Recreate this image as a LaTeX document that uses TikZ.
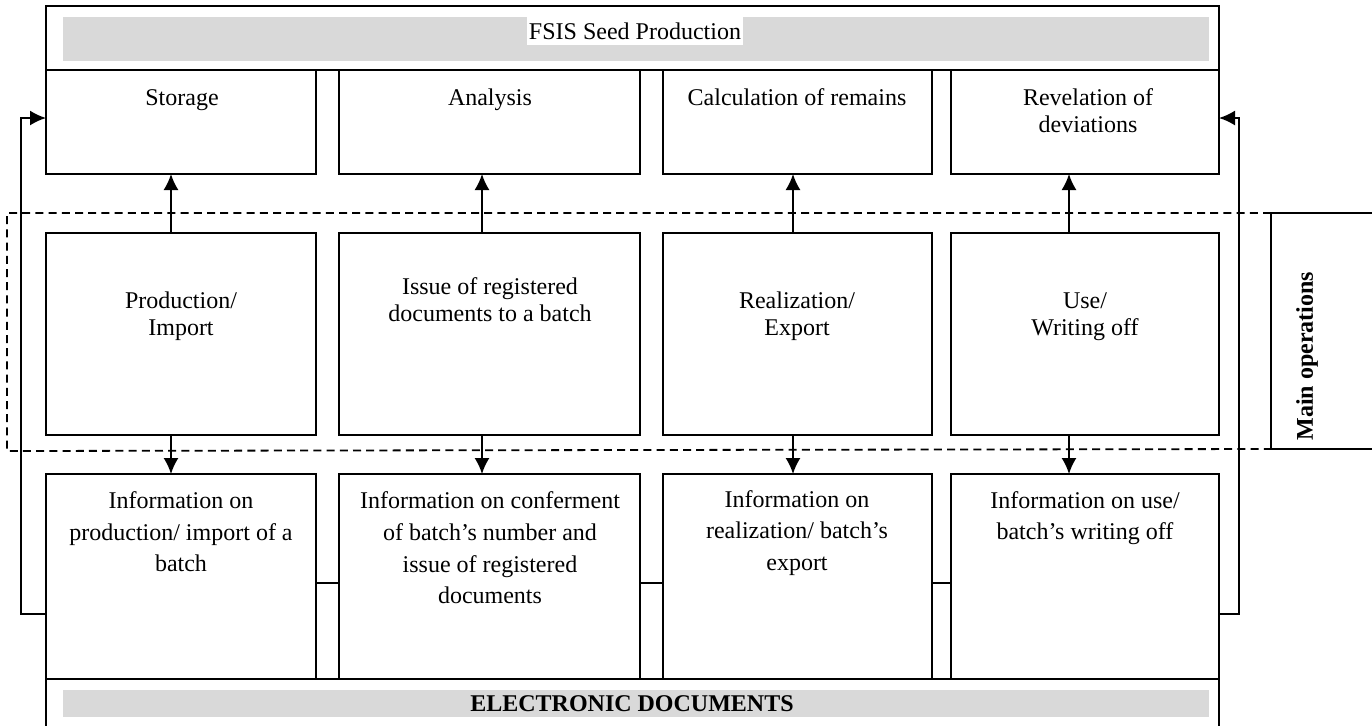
\documentclass[tikz,border=0pt]{standalone}
\usepackage{fontspec}
\setmainfont{Liberation Serif}
\usetikzlibrary{arrows.meta}
\begin{document}
\begin{tikzpicture}[x=0.5pt,y=-0.5pt,
  box/.style={draw, line width=0.9pt, inner sep=0pt, outer sep=0pt, anchor=north west},
  band/.style={fill=black!15, inner sep=0pt, outer sep=0pt, anchor=north west},
  lbl/.style={align=center, inner sep=0pt, font=\fontsize{12}{13.4}\selectfont},
  lblb/.style={align=center, inner sep=0pt, font=\fontsize{12}{15.8}\selectfont},
  arr/.style={line width=0.9pt, -{Latex[length=8pt,width=7.5pt]}},
  ln/.style={line width=0.9pt},
  dsh/.style={line width=0.9pt, dash pattern=on 4pt off 2.6pt}]
\useasboundingbox (0,0) rectangle (1372,725);
\clip (0,0) rectangle (1372,725);
% top band
\node[box, minimum width=586.5pt, minimum height=32pt] (top) at (46,6) {};
\node[band, minimum width=573pt, minimum height=22pt] (topg) at (63,17) {};
\node[fill=white, inner xsep=1pt, inner ysep=0pt, minimum height=14pt, anchor=north, font=\fontsize{12}{14}\selectfont] (title) at (635,17) {FSIS Seed Production};
% bottom band
\node[box, minimum width=586.5pt, minimum height=40pt] (bot) at (46,679) {};
\node[band, minimum width=573pt, minimum height=13.5pt] (botg) at (63,690) {};
\node[font=\fontsize{12}{14}\selectfont\bfseries, inner sep=0pt] (edoc) at (632,704) {ELECTRONIC DOCUMENTS};
% row 1
\node[box, minimum width=135pt, minimum height=52pt] (r1c1) at (46,70) {};
\node[box, minimum width=150.5pt, minimum height=52pt] (r1c2) at (339,70) {};
\node[box, minimum width=134.5pt, minimum height=52pt] (r1c3) at (663,70) {};
\node[box, minimum width=134pt, minimum height=52pt] (r1c4) at (951,70) {};
% row 2
\node[box, minimum width=135pt, minimum height=101pt] (r2c1) at (46,233) {};
\node[box, minimum width=150.5pt, minimum height=101pt] (r2c2) at (339,233) {};
\node[box, minimum width=134.5pt, minimum height=101pt] (r2c3) at (663,233) {};
\node[box, minimum width=134pt, minimum height=101pt] (r2c4) at (951,233) {};
% row 3
\node[box, minimum width=135pt, minimum height=102.5pt] (r3c1) at (46,474) {};
\node[box, minimum width=150.5pt, minimum height=102.5pt] (r3c2) at (339,474) {};
\node[box, minimum width=134.5pt, minimum height=102.5pt] (r3c3) at (663,474) {};
\node[box, minimum width=134pt, minimum height=102.5pt] (r3c4) at (951,474) {};
% labels row 1
\node[lbl] (t11) at (182,100) {Storage};
\node[lbl] (t12) at (490,100) {Analysis};
\node[lbl] (t13) at (797,97) {Calculation of remains};
\node[lbl] (t14) at (1088,111) {Revelation of\\deviations};
% labels row 2
\node[lbl] (t21) at (181,316) {Production/\\Import};
\node[lbl] (t22) at (490,300) {Issue of registered\\documents to a batch};
\node[lbl] (t23) at (797,316) {Realization/\\Export};
\node[lbl] (t24) at (1085,317) {Use/\\Writing off};
% labels row 3
\node[lblb] (t31) at (181,532) {Information on\\production/ import of a\\batch};
\node[lblb] (t32) at (490,548) {Information on conferment\\of batch's number and\\issue of registered\\documents};
\node[lblb] (t33) at (797,533) {Information on\\realization/ batch's\\export};
\node[lblb] (t34) at (1085,518) {Information on use/\\batch's writing off};
% main operations
\node[box, minimum width=70pt, minimum height=118pt] (mo) at (1271,213) {};
\node[font=\fontsize{12}{14}\selectfont\bfseries, rotate=90, inner sep=0pt] (mot) at (1307,356) {Main operations};
\draw[dsh] (mo.north west) -- (7,213) coordinate (dtl) -- (7,451) coordinate (dbl) -- (mo.south west);
% arrow x positions
\coordinate (a1) at (171,0);
\coordinate (a2) at (482,0);
\coordinate (a3) at (793,0);
\coordinate (a4) at (1069,0);
\draw[arr] (r2c1.north -| a1) -- (r1c1.south -| a1);
\draw[arr] (r2c2.north -| a2) -- (r1c2.south -| a2);
\draw[arr] (r2c3.north -| a3) -- (r1c3.south -| a3);
\draw[arr] (r2c4.north -| a4) -- (r1c4.south -| a4);
\draw[arr] (r2c1.south -| a1) -- (r3c1.north -| a1);
\draw[arr] (r2c2.south -| a2) -- (r3c2.north -| a2);
\draw[arr] (r2c3.south -| a3) -- (r3c3.north -| a3);
\draw[arr] (r2c4.south -| a4) -- (r3c4.north -| a4);
% row 3 links
\coordinate (cy) at (0,583);
\draw[ln] (r3c1.east |- cy) -- (r3c2.west |- cy);
\draw[ln] (r3c2.east |- cy) -- (r3c3.west |- cy);
\draw[ln] (r3c3.east |- cy) -- (r3c4.west |- cy);
% feedback lines
\coordinate (lb) at (21,614);
\coordinate (lt) at (21,118);
\coordinate (rb) at (1239,614);
\coordinate (rt) at (1239,118);
\draw[arr] (r3c1.west |- lb) -- (lb) -- (lt) -- (r1c1.west |- lt);
\draw[arr] (r3c4.east |- rb) -- (rb) -- (rt) -- (r1c4.east |- rt);
\end{tikzpicture}
\end{document}
